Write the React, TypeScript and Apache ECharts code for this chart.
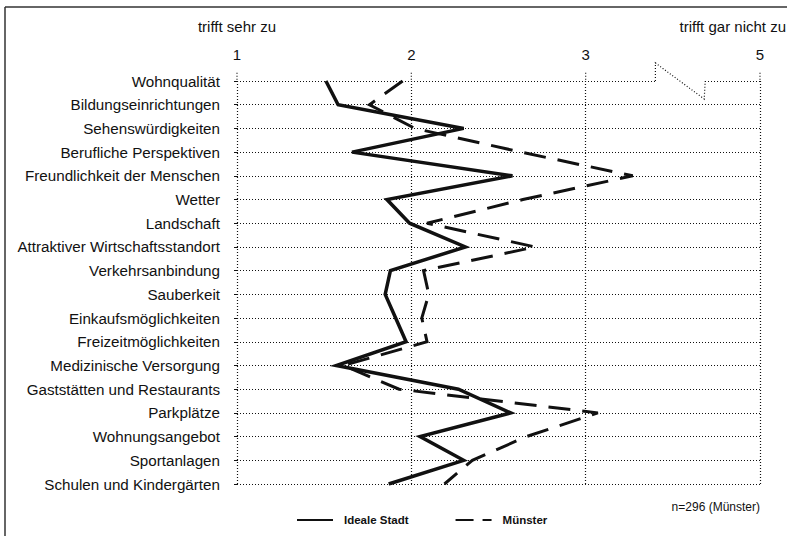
import React, { useEffect, useRef } from 'react';
import * as echarts from 'echarts';

const categories = [
  'Wohnqualität',
  'Bildungseinrichtungen',
  'Sehenswürdigkeiten',
  'Berufliche Perspektiven',
  'Freundlichkeit der Menschen',
  'Wetter',
  'Landschaft',
  'Attraktiver Wirtschaftsstandort',
  'Verkehrsanbindung',
  'Sauberkeit',
  'Einkaufsmöglichkeiten',
  'Freizeitmöglichkeiten',
  'Medizinische Versorgung',
  'Gaststätten und Restaurants',
  'Parkplätze',
  'Wohnungsangebot',
  'Sportanlagen',
  'Schulen und Kindergärten',
];

const idealeStadt = [1.51, 1.58, 2.3, 1.66, 2.58, 1.86, 1.99, 2.31, 1.88, 1.85, 1.91, 1.97, 1.57, 2.27, 2.57, 2.05, 2.3, 1.87];
const muenster = [1.95, 1.76, 2.02, 2.63, 3.27, 2.64, 2.09, 2.71, 2.07, 2.1, 2.06, 2.09, 1.61, 1.93, 3.07, 2.66, 2.35, 2.19];

const seriesNames = ['Ideale Stadt', 'Münster'];
const xTickLabels: Record<number, string> = { 1: '1', 2: '2', 3: '3', 4: '5' };
const scaleLeftLabel = 'trifft sehr zu';
const scaleRightLabel = 'trifft gar nicht zu';
const sampleNote = 'n=296 (Münster)';

// axis-break notch on the top grid line (between "3" and "5")
const breakFrom = 3.4;
const breakTo = 3.68;

export default function App() {
  const ref = useRef<HTMLDivElement>(null);

  useEffect(() => {
    const el = ref.current!;
    const chart = echarts.init(el, undefined, { renderer: 'svg' });
    const font = '"Liberation Sans", Arial, Helvetica, sans-serif';
    const ink = '#111';
    const gridStyle = { type: [1, 2], color: ink, width: 1.2 };

    chart.setOption({
      animation: false,
      backgroundColor: '#fff',
      textStyle: { fontFamily: font },
      grid: { left: 237, right: 27, top: 81, bottom: 52 },
      xAxis: {
        type: 'value',
        position: 'top',
        min: 1,
        max: 4,
        interval: 1,
        axisLine: { show: false },
        axisTick: { show: false },
        axisLabel: {
          formatter: (v: number) => xTickLabels[v] ?? '',
          color: ink,
          fontSize: 15,
          margin: 19,
          fontFamily: font,
        },
        splitLine: { show: true, lineStyle: gridStyle },
      },
      yAxis: {
        type: 'category',
        data: categories,
        inverse: true,
        boundaryGap: false,
        axisLine: { show: false },
        axisTick: { show: true, length: 3, lineStyle: { color: ink } },
        axisLabel: { color: ink, fontSize: 15.2, margin: 17, fontFamily: font },
        splitLine: { show: true, lineStyle: gridStyle },
      },
      legend: {
        data: [
          { name: seriesNames[0] },
          { name: seriesNames[1], lineStyle: { type: [18, 9] } },
        ],
        left: 296,
        top: 514,
        padding: 0,
        itemWidth: 36,
        itemHeight: 14,
        itemGap: 46,
        itemStyle: { opacity: 0 },
        textStyle: { fontSize: 11.5, fontWeight: 'bold', color: ink, fontFamily: font, padding: [0, 0, 0, 6] },
      },
      series: [
        {
          name: seriesNames[0],
          type: 'line',
          data: idealeStadt.map((v, i) => [v, categories[i]]),
          symbol: 'none',
          itemStyle: { color: ink },
          lineStyle: { color: ink, width: 3.5, join: 'miter', miterLimit: 10 },
          z: 3,
        },
        {
          name: seriesNames[1],
          type: 'line',
          data: muenster.map((v, i) => [v, categories[i]]),
          symbol: 'none',
          itemStyle: { color: ink },
          lineStyle: { color: ink, width: 3, type: [22, 12], join: 'miter', miterLimit: 10 },
          z: 2,
        },
      ],
    });

    const xs = [1, 2, 3, 4].map((v) => chart.convertToPixel({ xAxisIndex: 0 }, v) as number);
    const yTop = chart.convertToPixel({ yAxisIndex: 0 }, categories[0]) as number;
    const y2 = chart.convertToPixel({ yAxisIndex: 0 }, categories[1]) as number;
    const gap = y2 - yTop;
    const bx1 = chart.convertToPixel({ xAxisIndex: 0 }, breakFrom) as number;
    const bx2 = chart.convertToPixel({ xAxisIndex: 0 }, breakTo) as number;
    const dotted = { stroke: ink, lineWidth: 1.2, lineDash: [1, 2] };

    chart.setOption({
      graphic: [
        // frame (top and left edges)
        { type: 'line', shape: { x1: 5, y1: 7, x2: 787, y2: 7 }, style: { stroke: '#333', lineWidth: 1.5 } },
        { type: 'line', shape: { x1: 5, y1: 7, x2: 5, y2: 536 }, style: { stroke: '#333', lineWidth: 1.5 } },
        // vertical grid lines extend slightly above first row
        ...xs.map((x) => ({
          type: 'line',
          shape: { x1: x, y1: yTop - 0.35 * gap, x2: x, y2: yTop },
          style: dotted,
        })),
        // axis-break notch
        { type: 'rect', shape: { x: bx1 + 0.6, y: yTop - 2, width: bx2 - bx1 - 0.6, height: 4 }, style: { fill: '#fff' }, z: 10 },
        {
          type: 'polyline',
          shape: { points: [[bx1, yTop], [bx1, yTop - 0.76 * gap], [bx2, yTop + 0.76 * gap], [bx2 + 1, yTop]] },
          style: { ...dotted, fill: null },
          z: 11,
        },
        {
          type: 'text',
          x: xs[0],
          y: 26,
          style: { text: scaleLeftLabel, font: `15px ${font}`, fill: ink, textAlign: 'center', textVerticalAlign: 'middle' },
        },
        {
          type: 'text',
          x: 786,
          y: 26,
          style: { text: scaleRightLabel, font: `15px ${font}`, fill: ink, textAlign: 'right', textVerticalAlign: 'middle' },
        },
        {
          type: 'text',
          x: xs[3],
          y: 507,
          style: { text: sampleNote, font: `12px ${font}`, fill: ink, textAlign: 'right', textVerticalAlign: 'middle' },
        },
      ],
    });

    return () => chart.dispose();
  }, []);

  return <div ref={ref} style={{ position: 'fixed', left: 0, top: 0, width: 787, height: 536 }} />;
}
